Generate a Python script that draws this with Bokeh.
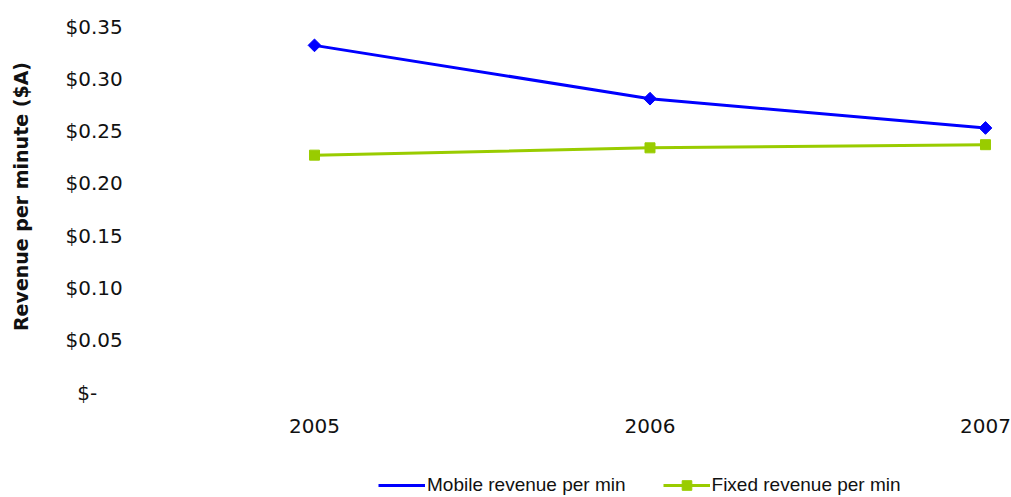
import math
from bokeh.plotting import figure
from bokeh.models import (ColumnDataSource, FixedTicker, CustomJSTickFormatter,
                          Range1d, Legend, LegendItem, Label)
from bokeh.embed import file_html
from bokeh.resources import INLINE

# Revenue per minute (A$) by year
years = [2005, 2006, 2007]
year_labels = ["2005", "2006", "2007"]
mobile = [0.332, 0.281, 0.253]
fixed = [0.227, 0.234, 0.237]
y_ticks = [0.0, 0.05, 0.10, 0.15, 0.20, 0.25, 0.30, 0.35]

BLUE = "#0000FF"
GREEN = "#99CC00"
TICK_FONT = "DejaVu Sans"
TEXT = "#111111"

W, H = 1011, 497
# the frame fills the whole canvas; axes are pinned inside it
X0, X1 = 2004.0641, 2007.0775
Y0, Y1 = -0.1004, 0.3749

src = ColumnDataSource(dict(year=years, mobile=mobile, fixed=fixed))

p = figure(width=W, height=H, output_backend="svg", toolbar_location=None,
           x_range=Range1d(X0, X1), y_range=Range1d(Y0, Y1),
           min_border=0, min_border_left=0, min_border_right=0,
           min_border_top=0, min_border_bottom=0)
p.outline_line_color = None
p.background_fill_color = "white"
p.border_fill_color = "white"
p.grid.visible = False

# x axis pinned at zero: year labels only
p.xaxis.fixed_location = 0
p.xaxis.ticker = FixedTicker(ticks=years)
p.xaxis.major_label_overrides = {y: l for y, l in zip(years, year_labels)}
p.xaxis.axis_line_color = None
p.xaxis.major_tick_line_color = None
p.xaxis.minor_tick_line_color = None
p.xaxis.major_tick_out = 0
p.xaxis.major_label_standoff = 26
p.xaxis.major_label_text_font = TICK_FONT
p.xaxis.major_label_text_font_size = "20px"
p.xaxis.major_label_text_color = TEXT

# y axis pinned half a category left of the first year, accounting-style labels
p.yaxis.fixed_location = years[0] - 0.5
p.yaxis.ticker = FixedTicker(ticks=y_ticks)
p.yaxis.formatter = CustomJSTickFormatter(
    code="return Math.abs(tick) < 1e-9 ? '$-\u2007\u2007' : '$' + tick.toFixed(2);")
p.yaxis.axis_line_color = None
p.yaxis.major_tick_line_color = None
p.yaxis.minor_tick_line_color = None
p.yaxis.major_tick_out = 0
p.yaxis.major_label_standoff = 24
p.yaxis.major_label_text_font = TICK_FONT
p.yaxis.major_label_text_font_size = "20px"
p.yaxis.major_label_text_color = TEXT

# y axis title, placed from pixel position (20, 196)
def px_to_x(px):
    return X0 + (X1 - X0) * px / W

def py_to_y(py):
    return Y1 - (Y1 - Y0) * py / H

ytitle = Label(x=px_to_x(20), y=py_to_y(196), text="Revenue per minute ($A)",
               angle=math.pi / 2, text_align="center", text_baseline="middle",
               text_font=TICK_FONT, text_font_style="bold",
               text_font_size="19px", text_color=TEXT)
p.add_layout(ytitle)

# series
ml = p.line("year", "mobile", source=src, line_color=BLUE, line_width=3)
mm = p.scatter("year", "mobile", source=src, marker="square", size=9,
               angle=math.pi / 4, fill_color=BLUE, line_color=BLUE)
fl = p.line("year", "fixed", source=src, line_color=GREEN, line_width=3)
fm = p.scatter("year", "fixed", source=src, marker="square", size=10,
               fill_color=GREEN, line_color=GREEN)

# legend swatch for the mobile series (rotated markers draw unrotated in legends)
key_src = ColumnDataSource(dict(x=[], y=[]))
mkey = p.scatter("x", "y", source=key_src, marker="diamond",
                 fill_color=BLUE, line_color=BLUE)

legend = Legend(items=[LegendItem(label="Mobile revenue per min", renderers=[ml, mkey]),
                       LegendItem(label="Fixed revenue per min", renderers=[fl, fm])],
                orientation="horizontal", location=(378, 0),
                padding=0, margin=0, spacing=37, label_standoff=2,
                glyph_width=47, glyph_height=24,
                border_line_color=None, background_fill_alpha=0,
                label_text_font="Liberation Sans", label_text_font_size="19px",
                label_text_color=TEXT)
p.add_layout(legend, "center")

open("out.html", "w").write(file_html(p, INLINE))
